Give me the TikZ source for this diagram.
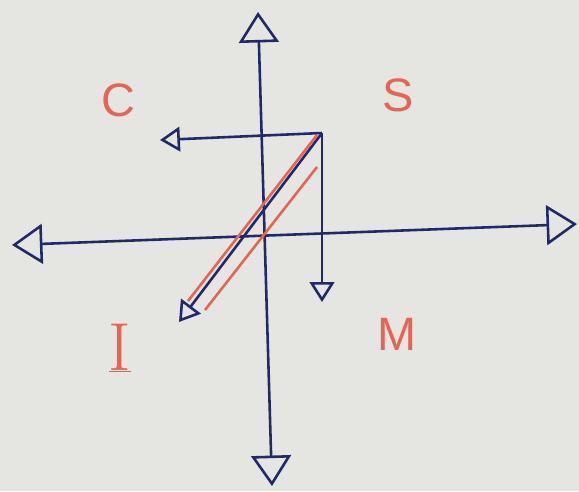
\documentclass[tikz,border=0pt]{standalone}
\usetikzlibrary{arrows.meta}
\usepackage{fontspec}
\setsansfont{Liberation Sans}
\definecolor{ink}{RGB}{32,42,105}
\definecolor{pen}{RGB}{232,100,82}
\definecolor{paper}{RGB}{229,229,226}
\tikzset{
	axis/.style={ink, line width=2.2pt, {Triangle[open, length=26pt, width=34pt, line width=2.2pt]}-{Triangle[open, length=26pt, width=34pt, line width=2.2pt]}},
	ray/.style={ink, line width=2.2pt, -{Triangle[open, length=17pt, width=21pt, line width=2.2pt]}},
	band/.style={pen, line width=2.2pt},
	lab/.style={pen, font=\sffamily\fontsize{40}{44}\selectfont}
}
\begin{document}
\begin{tikzpicture}[x=0.03cm, y=-0.03cm]
	
	% page and paper
	\useasboundingbox (0,0) rectangle (579,491);
	\fill[paper] (0,0) rectangle (579,491);
	
	% axes
	\coordinate (N) at (258,12);
	\coordinate (Sd) at (272,486);
	\coordinate (W) at (12,245);
	\coordinate (E) at (577,224);
	\draw[axis] (Sd) -- (N);
	\draw[axis] (W) -- (E);
	
	% source point and its rays
	\coordinate (P) at (322,133);
	\coordinate (toC) at (160,140);
	\coordinate (toM) at (322,302);
	\coordinate (toI) at (179,322);
	\draw[ray] (P) -- (toC);
	\draw[ray] (P) -- (toM);
	\draw[ray] (P) -- (toI);
	
	% red lines along the diagonal
	\draw[band] (317,135) -- (188,301);
	\draw[band] (317,167) -- (205,310);
	
	% labels
	\node[lab] (C) at (118,100) {C};
	\node[lab] (S) at (398,95) {S};
	\node[lab, font=\rmfamily\fontsize{58}{62}\selectfont] (I) at (120,348) {\underline{I}};
	\node[lab] (M) at (397,334) {M};
	
\end{tikzpicture}
\end{document}
